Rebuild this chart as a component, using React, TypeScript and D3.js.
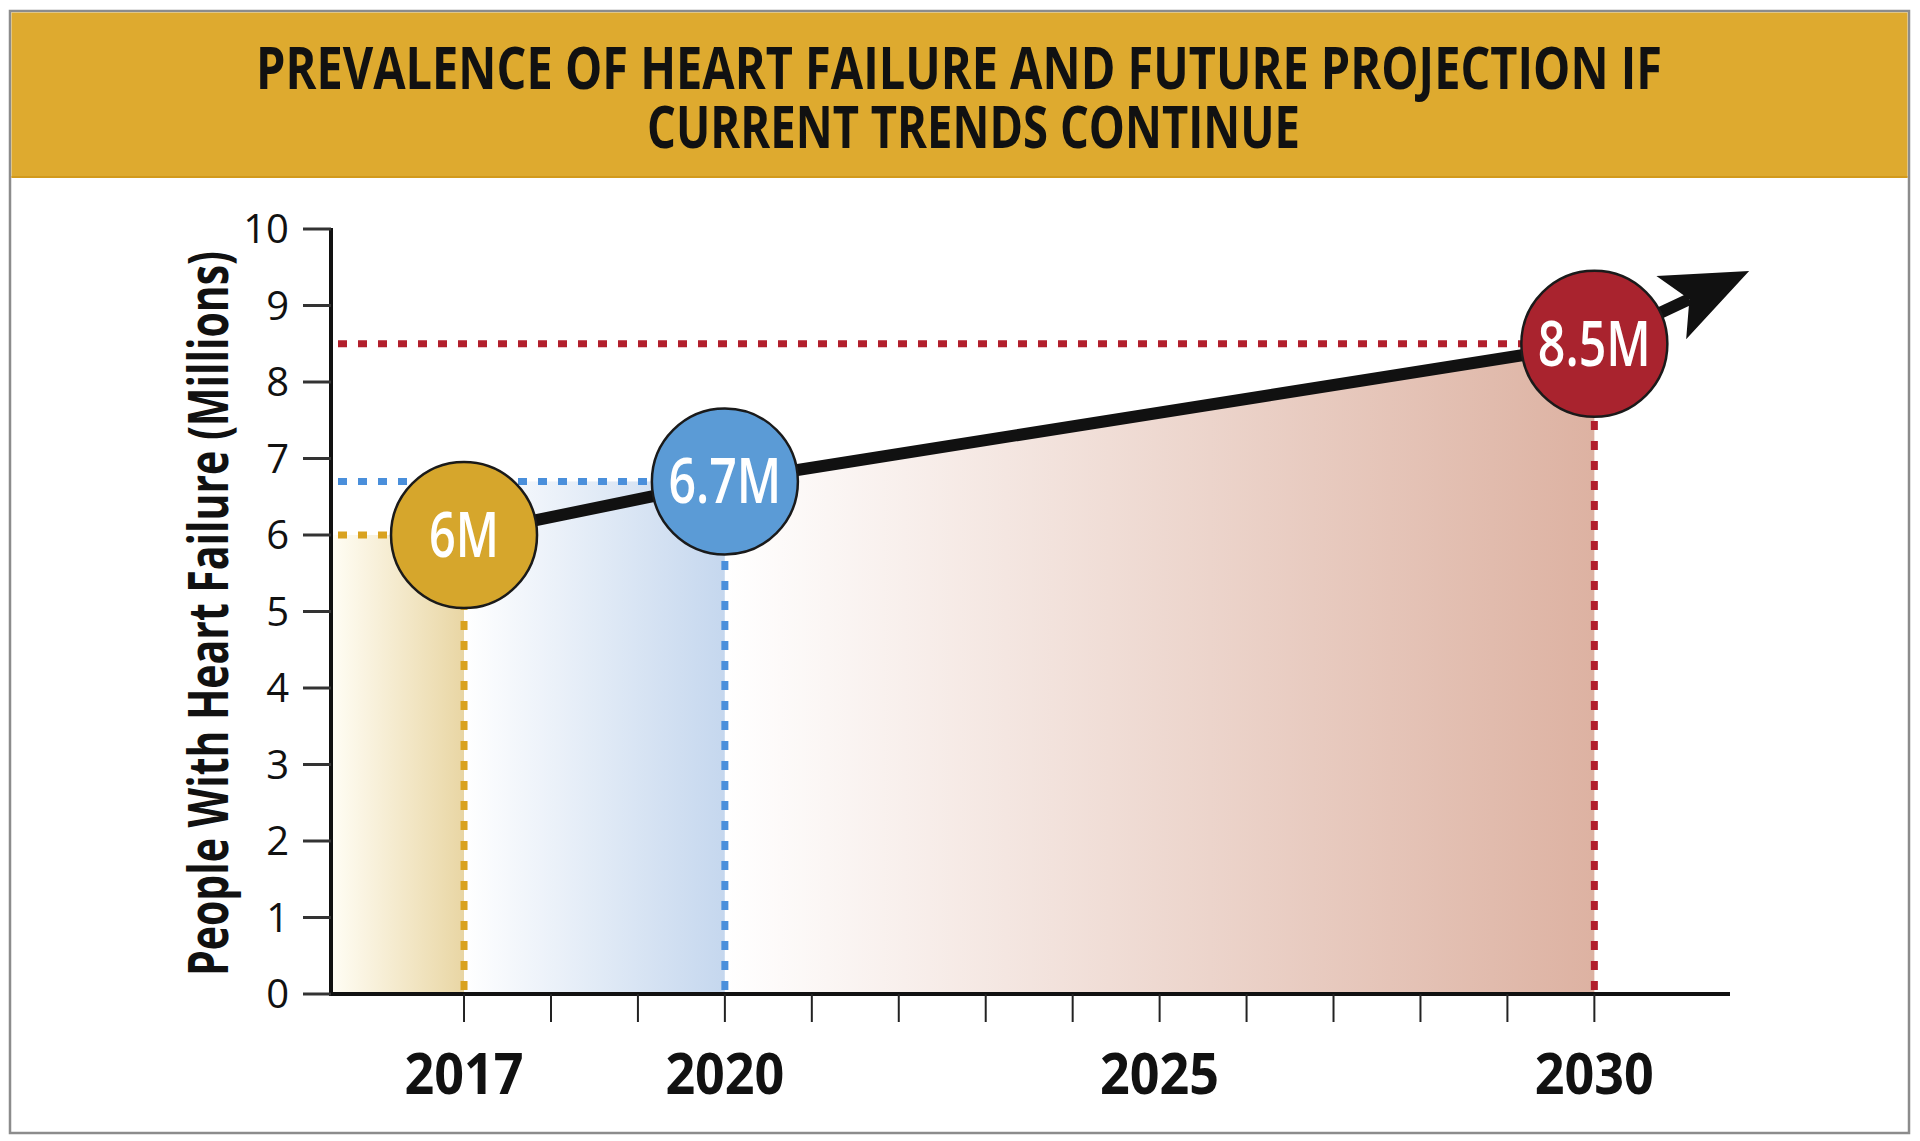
import React from "react";
import * as d3 from "d3";

// ---- data ----
const years = [2017, 2020, 2030];
const values = [6, 6.7, 8.5];
const pointLabels = ["6M", "6.7M", "8.5M"];
const projectionTip = { year: 2031.78, value: 9.45 };
const yTicks = [0, 1, 2, 3, 4, 5, 6, 7, 8, 9, 10];
const xTicks = d3.range(2017, 2031);
const xTickLabels = [2017, 2020, 2025, 2030];
const titleLines = ["PREVALENCE OF HEART FAILURE AND FUTURE PROJECTION IF", "CURRENT TRENDS CONTINUE"];
const yAxisTitle = "People With Heart Failure (Millions)";
const xDomain = [2015.47, 2031.56];
const yDomain = [0, 10];

// ---- styles ----
const W = 1920;
const H = 1141;
const pointFill = ["#D6A62C", "#5B9BD6", "#A9232E"];
const dotColor = ["#D9A21F", "#4A8FDB", "#B21F2C"];
const regionColorEnd = ["#E9D6A4", "#C5D7EE", "#DDB2A2"];
const regionColorStart = ["#FFFDF4", "#FFFFFF", "#FFFFFF"];
const FONT = "'Open Sans', 'DejaVu Sans', sans-serif";

export default function App() {
  const x = d3.scaleLinear().domain(xDomain).range([331, 1730]);
  const y = d3.scaleLinear().domain(yDomain).range([994, 229]);
  const R = 73;

  const pts = years.map((yr, i) => ({ year: yr, value: values[i] }));
  const tip: [number, number] = [x(projectionTip.year), y(projectionTip.value)];
  const last: [number, number] = [x(pts[2].year), y(pts[2].value)];
  const ang = Math.atan2(tip[1] - last[1], tip[0] - last[0]);
  const ux = Math.cos(ang), uy = Math.sin(ang);
  const px = -uy, py = ux;
  const headLen = 86, headHalf = 35, notch = 66;
  const notchPt: [number, number] = [tip[0] - ux * notch, tip[1] - uy * notch];
  const c1: [number, number] = [tip[0] - ux * headLen + px * headHalf, tip[1] - uy * headLen + py * headHalf];
  const c2: [number, number] = [tip[0] - ux * headLen - px * headHalf, tip[1] - uy * headLen - py * headHalf];

  const lineGen = d3.line<[number, number]>().x(d => d[0]).y(d => d[1]);
  const linePts: [number, number][] = pts.map(p => [x(p.year), y(p.value)] as [number, number]);
  linePts.push(notchPt);
  const linePath = lineGen(linePts) || "";
  const headPath = lineGen([tip, c1, notchPt, c2]) + "Z";

  const areaGen = d3.area<{ year: number; value: number }>()
    .x(d => x(d.year)).y0(y(0)).y1(d => y(d.value));
  const redArea = areaGen([pts[1], pts[2]]) || "";

  const regionX0 = [xDomain[0], years[0], years[1]];

  return (
    <svg width={W} height={H} style={{ position: "absolute", left: 0, top: 0, background: "#fff" }}>
      <defs>
        {[0, 1, 2].map(i => (
          <linearGradient key={i} id={"g" + i} x1="0" x2="1" y1="0" y2="0">
            <stop offset="0" stopColor={regionColorStart[i]} />
            <stop offset="1" stopColor={regionColorEnd[i]} />
          </linearGradient>
        ))}
      </defs>
      <rect x={0} y={0} width={W} height={H} fill="#fff" />
      {/* frame */}
      <rect x={10} y={11} width={1899} height={1122} fill="none" stroke="#8c8c8c" strokeWidth={2.5} />
      {/* header */}
      <rect x={11.5} y={12.5} width={1896} height={165} fill="#DEAA2F" />
      <line x1={11.5} x2={1907.5} y1={177} y2={177} stroke="#D29A1C" strokeWidth={2} />
      <text x={256} y={89} fontFamily={FONT} fontWeight={700} fontSize={59} fill="#111"
        textLength={1406} lengthAdjust="spacingAndGlyphs">{titleLines[0]}</text>
      <text x={647} y={148} fontFamily={FONT} fontWeight={700} fontSize={59} fill="#111"
        textLength={653} lengthAdjust="spacingAndGlyphs">{titleLines[1]}</text>

      {/* shaded regions */}
      <rect x={x(regionX0[0]) + 2} y={y(values[0])} width={x(years[0]) - x(regionX0[0]) - 2}
        height={y(0) - y(values[0])} fill="url(#g0)" />
      <rect x={x(years[0])} y={y(values[1])} width={x(years[1]) - x(years[0])}
        height={y(0) - y(values[1])} fill="url(#g1)" />
      <path d={redArea} fill="url(#g2)" />

      {/* dotted guide lines */}
      {pts.map((p, i) => (
        <g key={"d" + i}>
          <line x1={x(xDomain[0]) + 7} x2={x(p.year)} y1={y(p.value)} y2={y(p.value)}
            stroke={dotColor[i]} strokeWidth={7} strokeDasharray="9 11" />
          <line x1={x(p.year)} x2={x(p.year)} y1={y(0) - 4} y2={y(p.value)}
            stroke={dotColor[i]} strokeWidth={7} strokeDasharray="9 11" />
        </g>
      ))}

      {/* axes */}
      <line x1={x(xDomain[0])} x2={x(xDomain[0])} y1={y(10) - 1} y2={y(0) + 2} stroke="#111" strokeWidth={4} />
      <line x1={x(xDomain[0]) - 2} x2={x(xDomain[1])} y1={y(0)} y2={y(0)} stroke="#111" strokeWidth={4} />
      {yTicks.map(t => (
        <g key={"yt" + t}>
          <line x1={x(xDomain[0]) - 28} x2={x(xDomain[0])} y1={y(t)} y2={y(t)} stroke="#333" strokeWidth={3} />
          <text x={x(xDomain[0]) - 42} y={y(t)} dy="0.36em" textAnchor="end" fontFamily={FONT}
            fontSize={40} fill="#111">{t}</text>
        </g>
      ))}
      {xTicks.map(t => (
        <line key={"xt" + t} x1={x(t)} x2={x(t)} y1={y(0)} y2={y(0) + 28} stroke="#222" strokeWidth={2} />
      ))}
      {xTickLabels.map(t => (
        <text key={"xl" + t} x={x(t)} y={1094} textAnchor="middle" fontFamily={FONT} fontWeight={700}
          fontSize={58} fill="#111" textLength={119} lengthAdjust="spacingAndGlyphs">{t}</text>
      ))}
      <text transform={`translate(228, 613.5) rotate(-90)`} textAnchor="middle" fontFamily={FONT}
        fontWeight={700} fontSize={55} fill="#111" textLength={725} lengthAdjust="spacingAndGlyphs">{yAxisTitle}</text>

      {/* trend line + arrow */}
      <path d={linePath} fill="none" stroke="#111" strokeWidth={12} strokeLinejoin="round" />
      <path d={headPath} fill="#111" />

      {/* points */}
      {pts.map((p, i) => (
        <g key={"p" + i}>
          <circle cx={x(p.year)} cy={y(p.value)} r={R} fill={pointFill[i]} stroke="#1a1a1a" strokeWidth={2.5} />
          <text x={x(p.year)} y={y(p.value) + 22} textAnchor="middle" fontFamily={FONT} fontWeight={600}
            fontSize={63} fill="#fff" textLength={pointLabels[i].length > 2 ? 113 : 70}
            lengthAdjust="spacingAndGlyphs">{pointLabels[i]}</text>
        </g>
      ))}
    </svg>
  );
}
